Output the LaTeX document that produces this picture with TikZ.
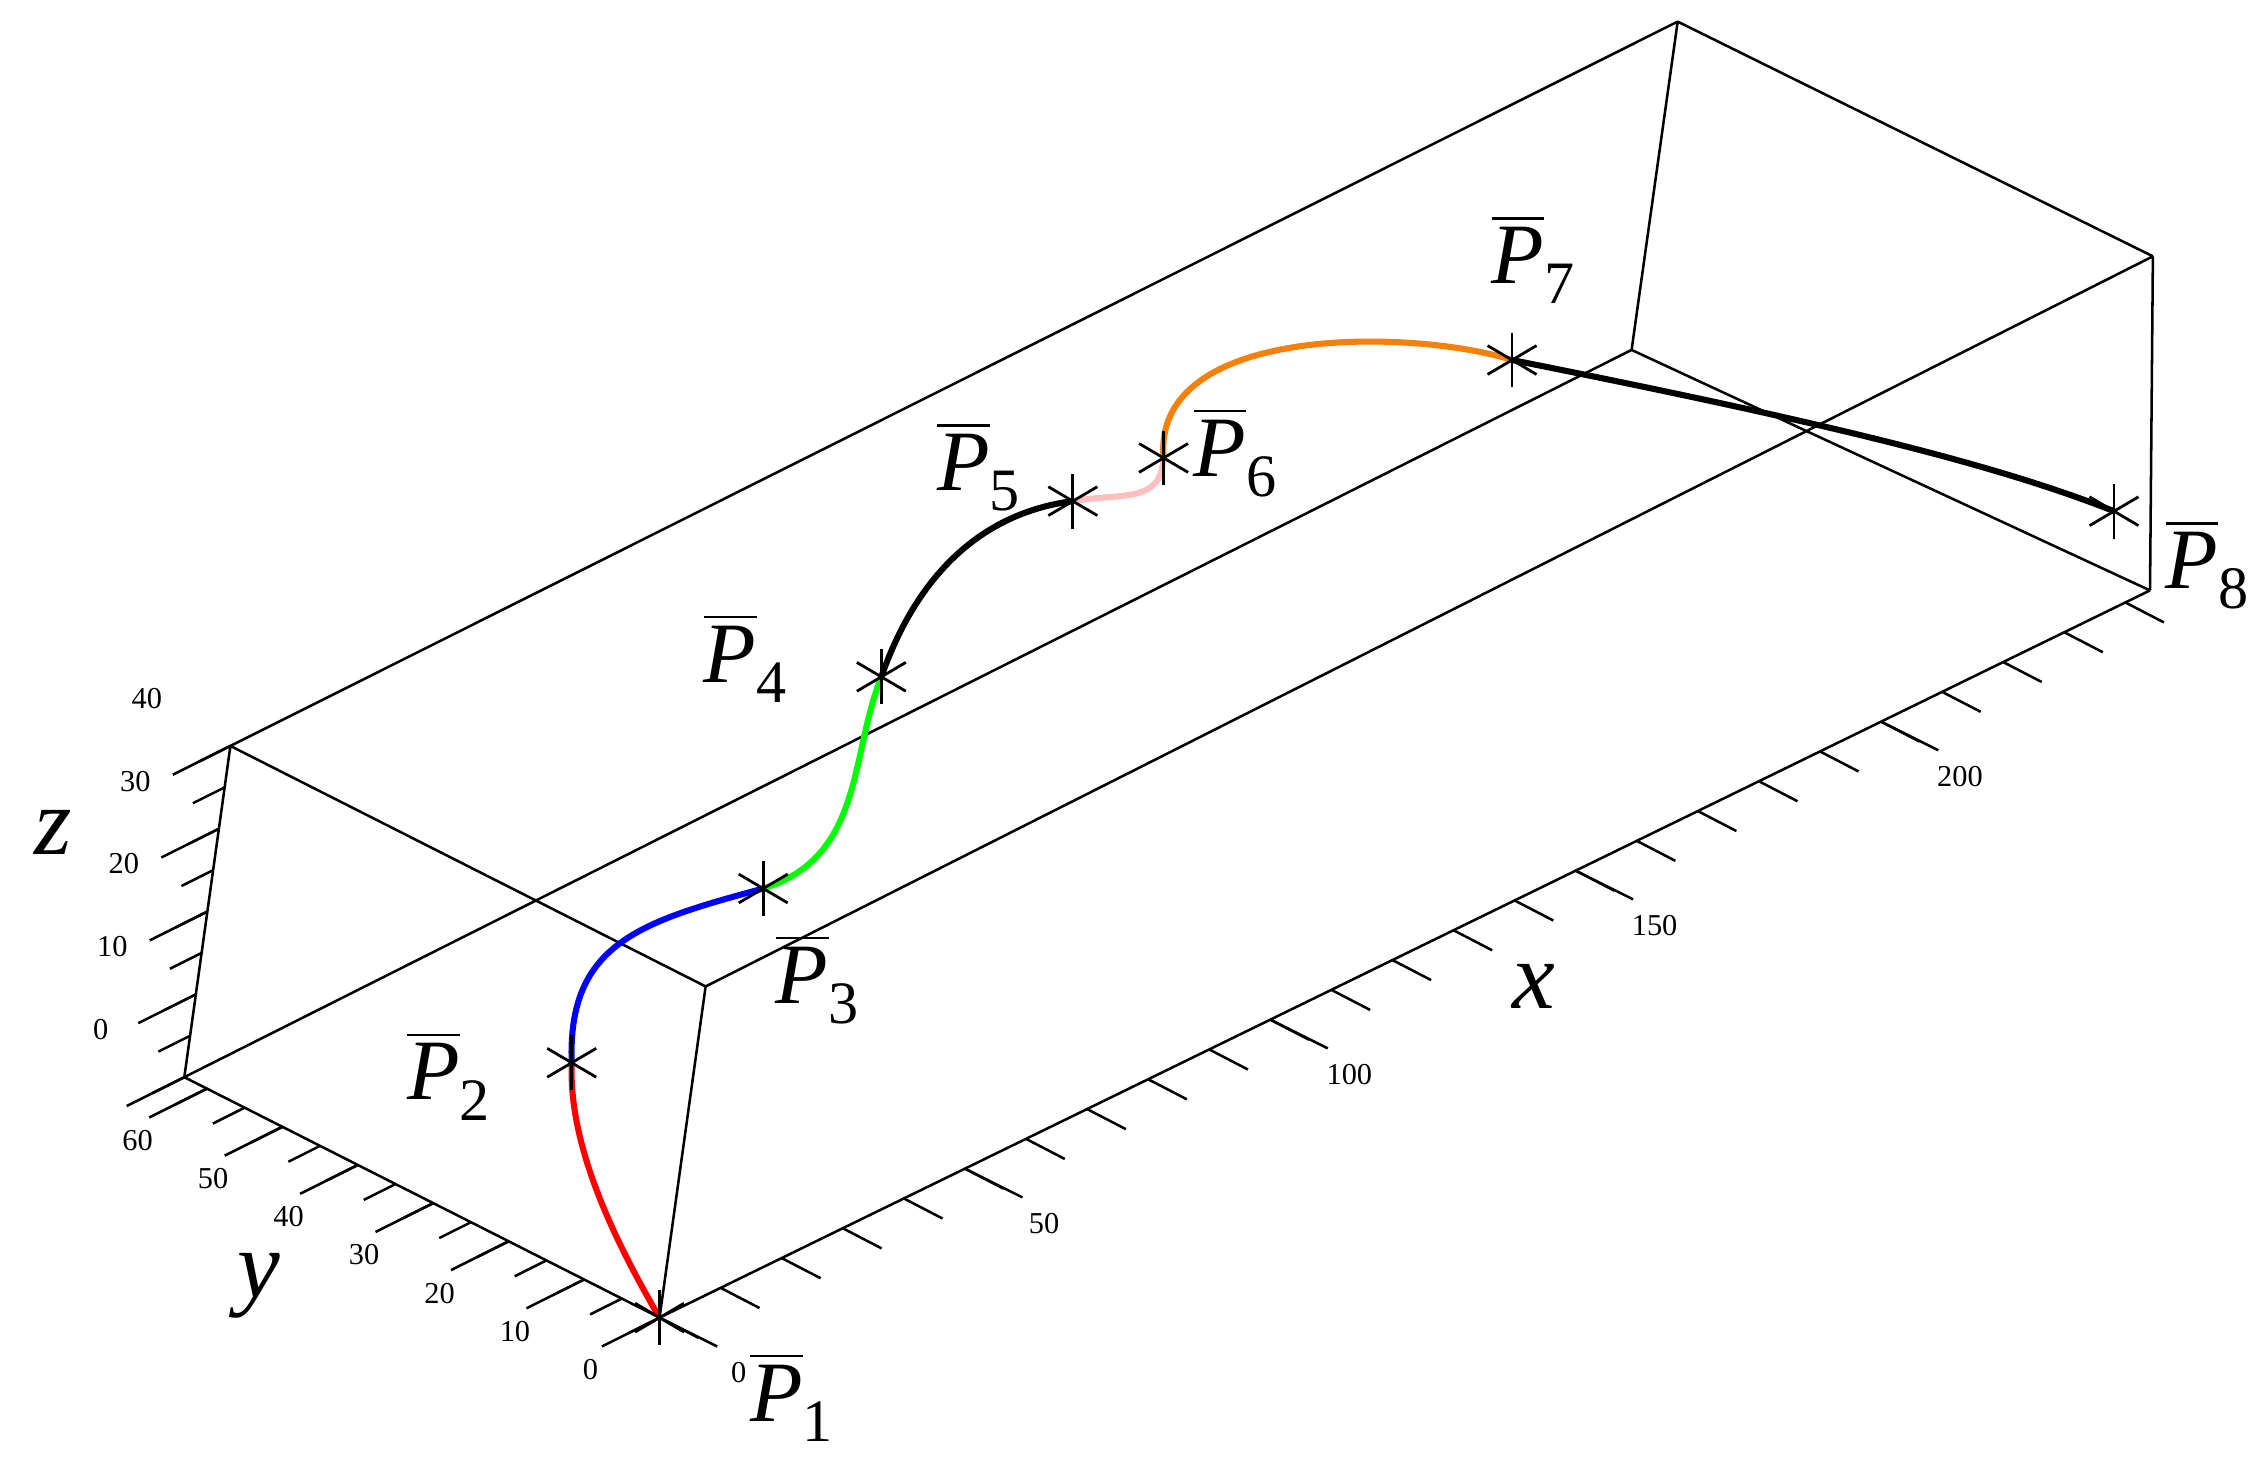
\documentclass[tikz,border=0pt]{standalone}
\usepackage{amsmath}
\usepackage{fontspec}
\setmainfont{Liberation Serif}
\newcommand{\pbar}[1]{$\overline{\text{\itshape P}}_{\text{\raisebox{-0.4ex}{#1}}}$}
\begin{document}
\begin{tikzpicture}[x=0.02cm,y=-0.02cm,
 edge/.style={line width=1pt},
 tick/.style={line width=1pt},
 curve/.style={line width=2.4pt},
 ticklab/.style={font=\fontsize{12}{12}\selectfont},
 plab/.style={font=\fontsize{34}{34}\selectfont},
 axlab/.style={font=\fontsize{38}{38}\selectfont\itshape}]
\useasboundingbox (0,0) rectangle (1568,1024);
\coordinate (O) at (458,915);
\coordinate (X) at (1493,410);
\coordinate (Y) at (128,748);
\coordinate (XY) at (1133,243);
\coordinate (OZ) at (490,685);
\coordinate (XZ) at (1495,178);
\coordinate (YZ) at (160,518);
\coordinate (XYZ) at (1165,15);
\draw[edge] (O)--(X) (O)--(Y) (O)--(OZ) (X)--(XZ) (Y)--(YZ) (OZ)--(XZ) (OZ)--(YZ) (YZ)--(XYZ) (XZ)--(XYZ) (XY)--(XYZ) (Y)--(XY) (X)--(XY);
\foreach \i in {0,10,...,240}{\draw[tick] ({458+4.24*\i},{915-2.07*\i}) -- ++(27,14);}
\foreach \i in {0,50,100,150,200}{\draw[tick] ({458+4.24*\i},{915-2.07*\i}) -- ++(40,20);
 \node[ticklab] (xl\i) at ({458+4.24*\i+55},{915-2.07*\i+38}) {\i};}
\foreach \i in {0,5,...,60}{\draw[tick] ({458-5.24*\i},{915-2.65*\i}) -- ++(-22,11);}
\foreach \i in {0,10,...,60}{\draw[tick] ({458-5.24*\i},{915-2.65*\i}) -- ++(-40,20);
 \node[ticklab] (yl\i) at ({458-5.24*\i-48},{915-2.65*\i+36}) {\i};}
\foreach \i in {0,5,...,40}{\draw[tick] ({128+0.8*\i},{748-5.75*\i}) -- ++(-22,11);}
\foreach \i in {0,10,...,40}{\draw[tick] ({128+0.8*\i},{748-5.75*\i}) -- ++(-40,20);
 \node[ticklab] (zl\i) at ({128+0.8*\i-58},{748-5.75*\i-33}) {\i};}
\node[axlab] (zax) at (37,578) {z};
\node[axlab] (yax) at (180,893) {y};
\node[axlab] (xax) at (1065,685) {x};
\coordinate (P1) at (458,915);
\coordinate (P2) at (397,738);
\coordinate (P3) at (530,617);
\coordinate (P4) at (612,470);
\coordinate (P5) at (745,348);
\coordinate (P6) at (808,318);
\coordinate (P7) at (1050,250);
\coordinate (P8) at (1468,355);
\draw[curve,red] (P1) .. controls (420,850) and (395,790) .. (P2);
\draw[curve,blue] (P2) .. controls (394,655) and (445,640) .. (P3);
\draw[curve,green] (P3) .. controls (600,595) and (590,525) .. (P4);
\draw[curve,black] (P4) .. controls (640,390) and (690,355) .. (P5);
\draw[curve,pink] (P5) .. controls (780,342) and (806,350) .. (P6);
\draw[curve,orange!85!brown] (P6) .. controls (800,225) and (980,228) .. (P7);
\draw[curve,black] (P7) .. controls (1250,290) and (1380,320) .. (P8);
\foreach \p in {P1,P2,P3,P4,P5,P6,P7,P8}{
 \draw[line width=1.1pt] (\p) ++(0,-19)--++(0,38);
 \draw[line width=1.1pt] (\p) ++(-17,-10)--++(34,20);
 \draw[line width=1.1pt] (\p) ++(-17,10)--++(34,-20);}
\node[plab] (L1) at (550,970) {\pbar{1}};
\node[plab] (L2) at (312,747) {\pbar{2}};
\node[plab] (L3) at (568,680) {\pbar{3}};
\node[plab] (L4) at (518,457) {\pbar{4}};
\node[plab] (L5) at (680,324) {\pbar{5}};
\node[plab] (L6) at (858,314) {\pbar{6}};
\node[plab] (L7) at (1065,180) {\pbar{7}};
\node[plab] (L8) at (1533,392) {\pbar{8}};
\end{tikzpicture}
\end{document}
